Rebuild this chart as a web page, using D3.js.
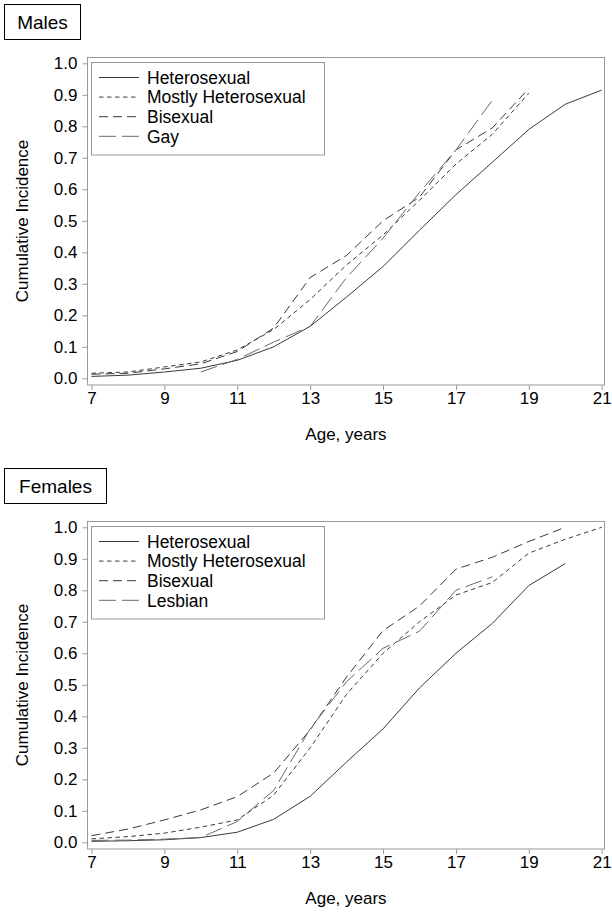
<!DOCTYPE html>
<html>
<head>
<meta charset="utf-8">
<script src="https://cdn.jsdelivr.net/npm/d3@7"></script>
<style>
  html, body { margin: 0; padding: 0; background: #fff; }
  svg { display: block; }
  text { font-family: "Liberation Sans", Arial, sans-serif; fill: #000; }
</style>
</head>
<body>
<svg id="chart" width="612" height="915"></svg>
<script>
// ---------- data ----------
const xTicks = [7, 9, 11, 13, 15, 17, 19, 21];
const yTicks = [0.0, 0.1, 0.2, 0.3, 0.4, 0.5, 0.6, 0.7, 0.8, 0.9, 1.0];

// Males
const maleHeteroAges = [7, 8, 9, 10, 11, 12, 13, 14, 15, 16, 17, 18, 19, 20, 21];
const maleHetero     = [0.006, 0.010, 0.020, 0.032, 0.057, 0.100, 0.165, 0.258, 0.355, 0.470, 0.583, 0.686, 0.790, 0.870, 0.915];
const maleMostlyAges = [7, 8, 9, 10, 11, 12, 13, 14, 15, 16, 17, 18, 19];
const maleMostly     = [0.016, 0.020, 0.036, 0.052, 0.090, 0.155, 0.250, 0.360, 0.455, 0.565, 0.680, 0.775, 0.905];
const maleBiAges     = [7, 8, 9, 10, 11, 12, 13, 14, 15, 16, 17, 18, 19];
const maleBi         = [0.013, 0.016, 0.030, 0.046, 0.085, 0.160, 0.320, 0.390, 0.500, 0.575, 0.725, 0.795, 0.920];
const maleGayAges    = [10, 11, 12, 13, 14, 15, 16, 17, 18];
const maleGay        = [0.020, 0.060, 0.115, 0.165, 0.320, 0.445, 0.590, 0.725, 0.883];

// Females
const femHeteroAges  = [7, 8, 9, 10, 11, 12, 13, 14, 15, 16, 17, 18, 19, 20];
const femHetero      = [0.003, 0.005, 0.008, 0.015, 0.032, 0.073, 0.146, 0.255, 0.360, 0.490, 0.600, 0.695, 0.815, 0.885];
const femMostlyAges  = [7, 8, 9, 10, 11, 12, 13, 14, 15, 16, 17, 18, 19, 20, 21];
const femMostly      = [0.011, 0.018, 0.029, 0.048, 0.071, 0.150, 0.300, 0.470, 0.600, 0.700, 0.785, 0.825, 0.918, 0.962, 1.000];
const femBiAges      = [7, 8, 9, 10, 11, 12, 13, 14, 15, 16, 17, 18, 19, 20];
const femBi          = [0.021, 0.042, 0.071, 0.103, 0.145, 0.220, 0.357, 0.525, 0.672, 0.750, 0.867, 0.905, 0.955, 1.000];
const femLesAges     = [7, 8, 9, 10, 11, 12, 13, 14, 15, 16, 17, 18];
const femLes         = [0.006, 0.007, 0.010, 0.015, 0.066, 0.165, 0.360, 0.510, 0.616, 0.670, 0.800, 0.843];

const maleNames = ["Heterosexual", "Mostly Heterosexual", "Bisexual", "Gay"];
const femNames  = ["Heterosexual", "Mostly Heterosexual", "Bisexual", "Lesbian"];

// ---------- styles ----------
const dashes = [null, "4.5,3.5", "9,5", "17,6"];
const colors = ["#3a3a3a", "#3a3a3a", "#3a3a3a", "#6a6a6a"];
const frameColor = "#9a9a9a";

const svg = d3.select("#chart");

function zip(ages, vals) { return ages.map((a, i) => ({ age: a, v: vals[i] })); }

function panel(offsetY, title, titleW, names, series) {
  const g = svg.append("g").attr("transform", `translate(0,${offsetY})`);

  const x = d3.scaleLinear().domain([7, 21]).range([91.5, 601.7]);
  const y = d3.scaleLinear().domain([0, 1]).range([378.3, 63.3]);

  // title box
  g.append("rect").attr("x", 4.5).attr("y", 4.5).attr("width", titleW).attr("height", 35)
    .attr("fill", "none").attr("stroke", "#000").attr("stroke-width", 1);
  g.append("text").attr("x", 4.5 + titleW / 2).attr("y", 28.5).attr("text-anchor", "middle")
    .style("font-size", "19px").text(title);

  // frame
  g.append("rect").attr("x", 87.5).attr("y", 57.5).attr("width", 517).attr("height", 327.5)
    .attr("fill", "none").attr("stroke", frameColor).attr("stroke-width", 1);

  // y axis
  const ya = g.append("g").attr("transform", "translate(87.5,0)")
    .call(d3.axisLeft(y).tickValues(yTicks).tickFormat(d3.format(".1f")).tickSize(5).tickPadding(5));
  ya.select(".domain").remove();
  ya.selectAll(".tick line").attr("stroke", frameColor);
  ya.selectAll(".tick text").style("font-size", "17px").style("font-family", "'Liberation Sans', Arial, sans-serif").attr("fill", "#000");

  // x axis
  const xa = g.append("g").attr("transform", "translate(0,385)")
    .call(d3.axisBottom(x).tickValues(xTicks).tickFormat(d3.format("d")).tickSize(5).tickPadding(2));
  xa.select(".domain").remove();
  xa.selectAll(".tick line").attr("stroke", frameColor);
  xa.selectAll(".tick text").style("font-size", "17px").style("font-family", "'Liberation Sans', Arial, sans-serif").attr("fill", "#000");

  // axis titles
  g.append("text").attr("transform", "translate(28,221) rotate(-90)").attr("text-anchor", "middle")
    .style("font-size", "17px").text("Cumulative Incidence");
  g.append("text").attr("x", 346).attr("y", 440).attr("text-anchor", "middle")
    .style("font-size", "17px").text("Age, years");

  // lines
  const line = d3.line().x(d => x(d.age)).y(d => y(d.v));
  series.forEach((s, i) => {
    g.append("path").datum(s).attr("d", line)
      .attr("fill", "none").attr("stroke", colors[i]).attr("stroke-width", 1)
      .attr("stroke-dasharray", dashes[i]);
  });

  // legend
  const lg = g.append("g");
  lg.append("rect").attr("x", 91.5).attr("y", 62.5).attr("width", 233).attr("height", 92.5)
    .attr("fill", "#fff").attr("stroke", frameColor).attr("stroke-width", 1);
  names.forEach((n, i) => {
    const cy = 77.5 + i * 19.6;
    lg.append("line").attr("x1", 99).attr("x2", 139).attr("y1", cy).attr("y2", cy)
      .attr("stroke", colors[i]).attr("stroke-width", 1).attr("stroke-dasharray", dashes[i]);
    lg.append("text").attr("x", 147).attr("y", cy).attr("dy", "0.36em")
      .style("font-size", "17.5px").text(n);
  });
}

panel(0, "Males", 76, maleNames, [
  zip(maleHeteroAges, maleHetero),
  zip(maleMostlyAges, maleMostly),
  zip(maleBiAges, maleBi),
  zip(maleGayAges, maleGay)
]);

panel(464, "Females", 102, femNames, [
  zip(femHeteroAges, femHetero),
  zip(femMostlyAges, femMostly),
  zip(femBiAges, femBi),
  zip(femLesAges, femLes)
]);
</script>
</body>
</html>
